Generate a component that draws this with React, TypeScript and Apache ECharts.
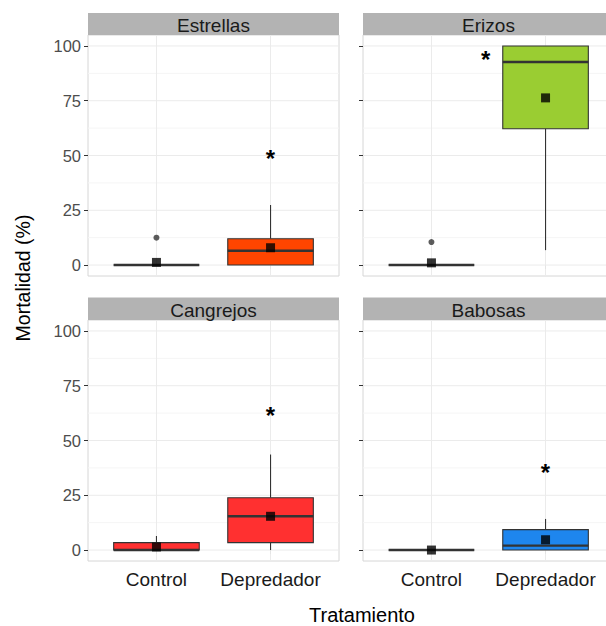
import React, { useEffect, useRef } from "react";
import * as echarts from "echarts";

// Facets and treatments
const panels = ["Estrellas", "Erizos", "Cangrejos", "Babosas"];
const treatments = ["Control", "Depredador"];
const panelFills = ["#FF4500", "#9ACD32", "#FF3030", "#1E86EE"];

// Y scale
const yTicks = [0, 25, 50, 75, 100];
const yMinor = [12.5, 37.5, 62.5, 87.5];

// Box statistics per panel: [lower whisker, Q1, median, Q3, upper whisker] for Control, Depredador
const boxEstrellas = [[0, 0, 0, 0, 0], [0, 0, 6.5, 12, 27.4]];
const boxErizos = [[0, 0, 0, 0, 0], [6.8, 62.2, 92.7, 100, 100]];
const boxCangrejos = [[0, 0, 0, 3.4, 6.4], [0, 3.4, 15.4, 23.9, 43.6]];
const boxBabosas = [[0, 0, 0, 0, 0], [0, 0, 2.0, 9.3, 14.2]];
const boxStats = [boxEstrellas, boxErizos, boxCangrejos, boxBabosas];

// Outliers per panel: [treatment position, value]
const outliersEstrellas = [[1, 12.5]];
const outliersErizos = [[1, 10.5]];
const outliersCangrejos: number[][] = [];
const outliersBabosas: number[][] = [];
const outliers = [outliersEstrellas, outliersErizos, outliersCangrejos, outliersBabosas];

// Means per panel: Control, Depredador
const meanEstrellas = [1.2, 7.9];
const meanErizos = [1.0, 76.3];
const meanCangrejos = [1.4, 15.4];
const meanBabosas = [0, 4.7];
const means = [meanEstrellas, meanErizos, meanCangrejos, meanBabosas];

// Significance marks per panel: [x position, y position]
const starEstrellas = [2, 51];
const starErizos = [1.475, 96];
const starCangrejos = [2, 63.5];
const starBabosas = [2, 37.6];
const stars = [starEstrellas, starErizos, starCangrejos, starBabosas];

const FONT = "'Liberation Sans', Arial, Helvetica, sans-serif";

// Panel layout (px)
const PANEL_W = 251;
const PANEL_H = 241;
const LEFTS = [88, 363];
const TOPS = [35, 320];
const STRIP_TOPS = [13, 297.5];
const STRIP_H = [22, 22.5];

export default function App() {
  const ref = useRef<HTMLDivElement>(null);

  useEffect(() => {
    if (!ref.current) return;
    const chart = echarts.init(ref.current, null, { renderer: "svg" });

    const grids: any[] = [];
    const xAxes: any[] = [];
    const yAxes: any[] = [];
    const series: any[] = [];
    const graphics: any[] = [];

    panels.forEach((name, i) => {
      const col = i % 2;
      const row = Math.floor(i / 2);
      const left = LEFTS[col];
      const top = TOPS[row];
      grids.push({
        left,
        top,
        width: PANEL_W,
        height: PANEL_H,
        show: true,
        borderColor: "#d6d6d6",
        borderWidth: 1,
        backgroundColor: "#ffffff",
      });
      xAxes.push({
        gridIndex: i,
        type: "value",
        min: 0.4,
        max: 2.6,
        splitLine: { show: false },
        axisLine: { show: false },
        axisTick: {
          show: true,
          customValues: [1, 2],
          length: 4,
          lineStyle: { color: "#333333", width: 1 },
        },
        axisLabel: {
          show: row === 1,
          customValues: [1, 2],
          formatter: (v: number) => treatments[Math.round(v) - 1] ?? "",
          fontSize: 19,
          color: "#1a1a1a",
          fontFamily: FONT,
          margin: 9,
        },
      });
      yAxes.push({
        gridIndex: i,
        type: "value",
        min: -5,
        max: 105,
        splitLine: { show: false },
        axisLine: { show: false },
        axisTick: {
          show: true,
          customValues: yTicks,
          length: 4,
          lineStyle: { color: "#333333", width: 1 },
        },
        axisLabel: {
          show: col === 0,
          customValues: yTicks,
          fontSize: 16.5,
          color: "#4d4d4d",
          fontFamily: FONT,
          margin: 7,
        },
      });

      // grid lines: [kind, value] kind 0 major horizontal, 1 minor horizontal, 2 vertical
      const gridData = [
        ...yMinor.map((v) => [1, v]),
        ...yTicks.map((v) => [0, v]),
        [2, 1],
        [2, 2],
      ];
      series.push({
        type: "custom",
        xAxisIndex: i,
        yAxisIndex: i,
        z: 1,
        silent: true,
        data: gridData,
        renderItem: (params: any, api: any) => {
          const kind = api.value(0);
          const v = api.value(1);
          const cs = params.coordSys;
          if (kind === 2) {
            const x = api.coord([v, 0])[0];
            return {
              type: "line",
              shape: { x1: x, y1: cs.y, x2: x, y2: cs.y + cs.height },
              style: { stroke: "#ebebeb", lineWidth: 1 },
            };
          }
          const y = api.coord([1, v])[1];
          return {
            type: "line",
            shape: { x1: cs.x, y1: y, x2: cs.x + cs.width, y2: y },
            style: { stroke: kind === 0 ? "#ebebeb" : "#f5f5f5", lineWidth: 1 },
          };
        },
      });

      // boxes
      const fill = panelFills[i];
      series.push({
        type: "custom",
        xAxisIndex: i,
        yAxisIndex: i,
        z: 2,
        silent: true,
        data: boxStats[i].map((s, k) => [k + 1, ...s]),
        renderItem: (params: any, api: any) => {
          const x = api.value(0);
          const lo = api.coord([x, api.value(1)])[1];
          const q1 = api.coord([x, api.value(2)])[1];
          const med = api.coord([x, api.value(3)])[1];
          const q3 = api.coord([x, api.value(4)])[1];
          const hi = api.coord([x, api.value(5)])[1];
          const cx = api.coord([x, 0])[0];
          const hw = api.size([0.75, 0])[0] / 2;
          const stroke = "#333333";
          return {
            type: "group",
            children: [
              {
                type: "line",
                shape: { x1: cx, y1: q3, x2: cx, y2: hi },
                style: { stroke, lineWidth: 1.1 },
              },
              {
                type: "line",
                shape: { x1: cx, y1: q1, x2: cx, y2: lo },
                style: { stroke, lineWidth: 1.1 },
              },
              {
                type: "rect",
                shape: { x: cx - hw, y: q3, width: 2 * hw, height: q1 - q3 },
                style: { fill, stroke, lineWidth: 1.1 },
              },
              {
                type: "line",
                shape: { x1: cx - hw, y1: med, x2: cx + hw, y2: med },
                style: { stroke, lineWidth: 2.4 },
              },
            ],
          };
        },
      });

      // outliers
      series.push({
        type: "scatter",
        xAxisIndex: i,
        yAxisIndex: i,
        z: 3,
        silent: true,
        symbol: "circle",
        symbolSize: 6,
        itemStyle: { color: "#333333" },
        data: outliers[i],
      });

      // means
      series.push({
        type: "scatter",
        xAxisIndex: i,
        yAxisIndex: i,
        z: 4,
        silent: true,
        symbol: "rect",
        symbolSize: 9,
        itemStyle: { color: "#000000" },
        data: means[i].map((m, k) => [k + 1, m]),
      });

      // significance asterisk
      series.push({
        type: "custom",
        xAxisIndex: i,
        yAxisIndex: i,
        z: 5,
        silent: true,
        data: [stars[i]],
        renderItem: (params: any, api: any) => {
          const p = api.coord([api.value(0), api.value(1)]);
          return {
            type: "text",
            x: p[0],
            y: p[1] + 5,
            style: {
              text: "*",
              fontSize: 24,
              fontWeight: "bold",
              fontFamily: FONT,
              fill: "#000000",
              align: "center",
              verticalAlign: "middle",
            },
          };
        },
      });

      // strip
      graphics.push({
        type: "rect",
        left: left,
        top: STRIP_TOPS[row],
        shape: { width: PANEL_W, height: STRIP_H[row] },
        style: { fill: "#b3b3b3" },
        silent: true,
      });
      graphics.push({
        type: "text",
        x: left + PANEL_W / 2,
        y: STRIP_TOPS[row] + STRIP_H[row] / 2 + 1.5,
        style: {
          text: name,
          fontSize: 19,
          fontFamily: FONT,
          fill: "#1a1a1a",
          align: "center",
          verticalAlign: "middle",
        },
        silent: true,
      });
    });

    graphics.push({
      type: "text",
      x: 22.5,
      y: 278,
      rotation: Math.PI / 2,
      style: {
        text: "Mortalidad (%)",
        fontSize: 19.5,
        fontFamily: FONT,
        fill: "#000000",
        align: "center",
        verticalAlign: "middle",
      },
      silent: true,
    });
    graphics.push({
      type: "text",
      x: 362,
      y: 615,
      style: {
        text: "Tratamiento",
        fontSize: 20,
        lineHeight: 20,
        fontFamily: FONT,
        fill: "#000000",
        align: "center",
        verticalAlign: "middle",
      },
      silent: true,
    });

    chart.setOption({
      animation: false,
      backgroundColor: "#ffffff",
      textStyle: { fontFamily: FONT },
      grid: grids,
      xAxis: xAxes,
      yAxis: yAxes,
      series,
      graphic: graphics,
    });

    return () => chart.dispose();
  }, []);

  return (
    <div
      ref={ref}
      style={{ position: "fixed", left: 0, top: 0, width: 622, height: 626 }}
    />
  );
}
